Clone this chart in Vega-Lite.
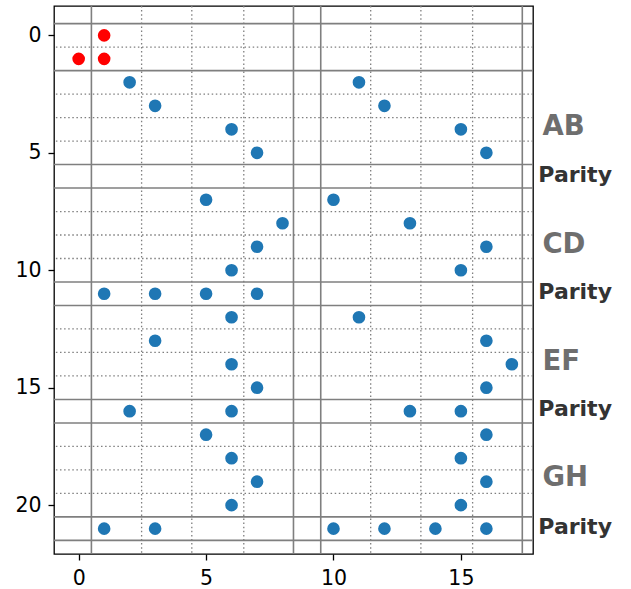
{
  "$schema": "https://vega.github.io/schema/vega-lite/v6.json",
  "width": 479,
  "height": 548,
  "autosize": {"type": "none"},
  "padding": {"left": 54, "top": 6, "right": 98, "bottom": 35},
  "background": "white",
  "config": {
    "view": {"stroke": "black", "strokeWidth": 1.3},
    "font": "DejaVu Sans"
  },
  "datasets": {
    "hsolid": [{"y": -0.5}, {"y": 1.5}, {"y": 5.5}, {"y": 6.5}, {"y": 10.5}, {"y": 11.5}, {"y": 15.5}, {"y": 16.5}, {"y": 20.5}, {"y": 21.5}],
    "hdot": [{"y": 0.5}, {"y": 2.5}, {"y": 3.5}, {"y": 4.5}, {"y": 7.5}, {"y": 8.5}, {"y": 9.5}, {"y": 12.5}, {"y": 13.5}, {"y": 14.5}, {"y": 17.5}, {"y": 18.5}, {"y": 19.5}],
    "vsolid": [{"x": 0.5}, {"x": 8.43}, {"x": 9.5}, {"x": 17.41}],
    "vdot": [{"x": 2.47}, {"x": 4.44}, {"x": 6.48}, {"x": 11.46}, {"x": 13.43}, {"x": 15.46}],
    "points": [
      {"x": 1, "y": 0, "c": "red"},
      {"x": 0, "y": 1, "c": "red"},
      {"x": 1, "y": 1, "c": "red"},
      {"x": 2, "y": 2, "c": "blue"}, {"x": 11, "y": 2, "c": "blue"},
      {"x": 3, "y": 3, "c": "blue"}, {"x": 12, "y": 3, "c": "blue"},
      {"x": 6, "y": 4, "c": "blue"}, {"x": 15, "y": 4, "c": "blue"},
      {"x": 7, "y": 5, "c": "blue"}, {"x": 16, "y": 5, "c": "blue"},
      {"x": 5, "y": 7, "c": "blue"}, {"x": 10, "y": 7, "c": "blue"},
      {"x": 8, "y": 8, "c": "blue"}, {"x": 13, "y": 8, "c": "blue"},
      {"x": 7, "y": 9, "c": "blue"}, {"x": 16, "y": 9, "c": "blue"},
      {"x": 6, "y": 10, "c": "blue"}, {"x": 15, "y": 10, "c": "blue"},
      {"x": 1, "y": 11, "c": "blue"}, {"x": 3, "y": 11, "c": "blue"}, {"x": 5, "y": 11, "c": "blue"}, {"x": 7, "y": 11, "c": "blue"},
      {"x": 6, "y": 12, "c": "blue"}, {"x": 11, "y": 12, "c": "blue"},
      {"x": 3, "y": 13, "c": "blue"}, {"x": 16, "y": 13, "c": "blue"},
      {"x": 6, "y": 14, "c": "blue"}, {"x": 17, "y": 14, "c": "blue"},
      {"x": 7, "y": 15, "c": "blue"}, {"x": 16, "y": 15, "c": "blue"},
      {"x": 2, "y": 16, "c": "blue"}, {"x": 6, "y": 16, "c": "blue"}, {"x": 13, "y": 16, "c": "blue"}, {"x": 15, "y": 16, "c": "blue"},
      {"x": 5, "y": 17, "c": "blue"}, {"x": 16, "y": 17, "c": "blue"},
      {"x": 6, "y": 18, "c": "blue"}, {"x": 15, "y": 18, "c": "blue"},
      {"x": 7, "y": 19, "c": "blue"}, {"x": 16, "y": 19, "c": "blue"},
      {"x": 6, "y": 20, "c": "blue"}, {"x": 15, "y": 20, "c": "blue"},
      {"x": 1, "y": 21, "c": "blue"}, {"x": 3, "y": 21, "c": "blue"}, {"x": 10, "y": 21, "c": "blue"}, {"x": 12, "y": 21, "c": "blue"}, {"x": 14, "y": 21, "c": "blue"}, {"x": 16, "y": 21, "c": "blue"}
    ],
    "groups": [
      {"x": 18.2, "y": 4.26, "t": "AB"},
      {"x": 18.2, "y": 9.28, "t": "CD"},
      {"x": 18.2, "y": 14.24, "t": "EF"},
      {"x": 18.2, "y": 19.2, "t": "GH"}
    ],
    "parity": [
      {"x": 18.04, "y": 6.24, "t": "Parity"},
      {"x": 18.04, "y": 11.22, "t": "Parity"},
      {"x": 18.04, "y": 16.2, "t": "Parity"},
      {"x": 18.04, "y": 21.22, "t": "Parity"}
    ]
  },
  "layer": [
    {
      "data": {"name": "hsolid"},
      "mark": {"type": "rule", "color": "#7f7f7f", "strokeWidth": 1.6},
      "encoding": {
        "y": {"field": "y", "type": "quantitative", "scale": {"domain": [-1.25, 22.08], "reverse": true, "nice": false, "zero": false},
          "axis": {"values": [0, 5, 10, 15, 20], "grid": false, "domain": false, "tickSize": 6, "tickWidth": 1.3, "tickColor": "black", "labelFontSize": 20.5, "labelFont": "DejaVu Sans", "labelColor": "black", "labelPadding": 7, "title": null}}
      }
    },
    {
      "data": {"name": "hdot"},
      "mark": {"type": "rule", "color": "#7f7f7f", "strokeWidth": 1.3, "strokeDash": [1.5, 2.6]},
      "encoding": {
        "y": {"field": "y", "type": "quantitative"}
      }
    },
    {
      "data": {"name": "vsolid"},
      "mark": {"type": "rule", "color": "#7f7f7f", "strokeWidth": 1.6},
      "encoding": {
        "x": {"field": "x", "type": "quantitative", "scale": {"domain": [-0.968, 17.83], "nice": false, "zero": false},
          "axis": {"values": [0, 5, 10, 15], "grid": false, "domain": false, "tickSize": 6, "tickWidth": 1.3, "tickColor": "black", "labelFontSize": 20.5, "labelFont": "DejaVu Sans", "labelColor": "black", "labelPadding": 8, "title": null}}
      }
    },
    {
      "data": {"name": "vdot"},
      "mark": {"type": "rule", "color": "#7f7f7f", "strokeWidth": 1.3, "strokeDash": [1.5, 2.6]},
      "encoding": {
        "x": {"field": "x", "type": "quantitative"}
      }
    },
    {
      "data": {"name": "points"},
      "mark": {"type": "circle", "size": 160, "opacity": 1},
      "encoding": {
        "x": {"field": "x", "type": "quantitative"},
        "y": {"field": "y", "type": "quantitative"},
        "color": {"field": "c", "type": "nominal", "scale": {"domain": ["blue", "red"], "range": ["#1f77b4", "#ff0000"]}, "legend": null}
      }
    },
    {
      "data": {"name": "groups"},
      "mark": {"type": "text", "align": "left", "baseline": "alphabetic", "fontSize": 27.5, "fontWeight": "bold", "font": "DejaVu Sans", "color": "#6e6e6e"},
      "encoding": {
        "x": {"field": "x", "type": "quantitative"},
        "y": {"field": "y", "type": "quantitative"},
        "text": {"field": "t"}
      }
    },
    {
      "data": {"name": "parity"},
      "mark": {"type": "text", "align": "left", "baseline": "alphabetic", "fontSize": 22, "fontWeight": "bold", "font": "DejaVu Sans", "color": "#333333"},
      "encoding": {
        "x": {"field": "x", "type": "quantitative"},
        "y": {"field": "y", "type": "quantitative"},
        "text": {"field": "t"}
      }
    }
  ]
}
